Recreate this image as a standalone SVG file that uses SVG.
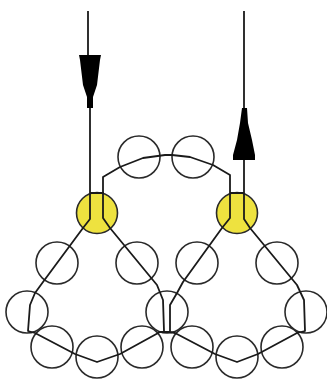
<svg xmlns="http://www.w3.org/2000/svg" width="327" height="379" viewBox="0 0 327 379">
<style>
.c{fill:none;stroke:#2a2a2a;stroke-width:1.6}
.y{fill:#eee23f;stroke:#2a2a2a;stroke-width:1.6}
.w{fill:none;stroke:#1a1a1a;stroke-width:1.8;stroke-linejoin:round}
.a{fill:#000;stroke:none}
</style>
<rect width="327" height="379" fill="#fff"/>
<g id="n1"><circle class="y" cx="97" cy="213" r="20.5"/></g>
<g id="n2"><circle class="y" cx="237" cy="213" r="20.5"/></g>
<g id="n3"><circle class="c" cx="139" cy="157" r="21"/></g>
<g id="n4"><circle class="c" cx="193" cy="157" r="21"/></g>
<g id="n5"><circle class="c" cx="57" cy="263" r="21"/></g>
<g id="n6"><circle class="c" cx="137" cy="263" r="21"/></g>
<g id="n7"><circle class="c" cx="27" cy="312" r="21"/></g>
<g id="n8"><circle class="c" cx="52" cy="347" r="21"/></g>
<g id="n9"><circle class="c" cx="97" cy="357" r="21"/></g>
<g id="n10"><circle class="c" cx="142" cy="347" r="21"/></g>
<g id="n11"><circle class="c" cx="167" cy="312" r="21"/></g>
<g id="n12"><circle class="c" cx="197" cy="263" r="21"/></g>
<g id="n13"><circle class="c" cx="277" cy="263" r="21"/></g>
<g id="n14"><circle class="c" cx="306" cy="312" r="21"/></g>
<g id="n15"><circle class="c" cx="192" cy="347" r="21"/></g>
<g id="n16"><circle class="c" cx="237" cy="357" r="21"/></g>
<g id="n17"><circle class="c" cx="282" cy="347" r="21"/></g>
<g id="connectors">
<path class="w" d="M88 11V55M90 108V219L83 228L43 282L35 293L30 305L28 331L35 333L75 354L97 362L120 354L160 332H170L175 333L215 354L237 362L258 354L297 333L305 331L304 300L297 285L250 228L244 219V108M244 11V108"/>
<path class="w" d="M90 193H104M230 193H244"/>
<path class="w" d="M164 331L163 300L157 285L110 228L103 218V177L120 167L143 158L165 155H172L190 157L213 165L230 175V218L222 228L183 282L177 293L170 305V331"/>
<polygon class="a" points="79,55 101,55 100,60 97,85 93,97 93,108 87,108 87,97 83,85 80,60"/>
<polygon class="a" points="233,160 255,160 255,155 252,140 248,123 247,108 242,108 240,123 237,140 233,155"/>
</g>
</svg>
